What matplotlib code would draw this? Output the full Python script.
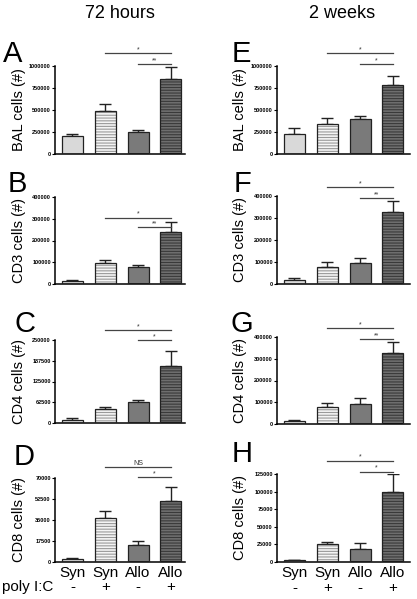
import matplotlib
matplotlib.use("Agg")
import matplotlib.pyplot as plt

plt.rcParams['font.family'] = ['Liberation Sans', 'DejaVu Sans']
plt.rcParams['hatch.linewidth'] = 0.8

groups = ["Syn", "Syn", "Allo", "Allo"]
polyic = ["-", "+", "-", "+"]
col_titles = ["72 hours", "2 weeks"]

bal_72h = [205000, 488000, 250000, 848000]
bal_72h_err = [25000, 76000, 22000, 137000]
cd3_72h = [12000, 96000, 78000, 239000]
cd3_72h_err = [6000, 15000, 9000, 44000]
cd4_72h = [10000, 43000, 62000, 171000]
cd4_72h_err = [4000, 5000, 8000, 45000]
cd8_72h = [2500, 36700, 13900, 51100]
cd8_72h_err = [600, 6100, 3900, 11400]

bal_2w = [227000, 337000, 394000, 780000]
bal_2w_err = [72000, 72000, 42000, 106000]
cd3_2w = [18000, 79000, 95500, 327000]
cd3_2w_err = [7800, 19700, 24200, 48700]
cd4_2w = [15000, 78000, 92000, 328000]
cd4_2w_err = [5000, 18000, 28000, 49000]
cd8_2w = [2400, 25500, 18400, 99500]
cd8_2w_err = [300, 2800, 8500, 25000]

ylabels = ["BAL cells (#)", "CD3 cells (#)", "CD4 cells (#)", "CD8 cells (#)"]
letters = [["A", "B", "C", "D"], ["E", "F", "G", "H"]]

ticks_72h = [
    [0, 250000, 500000, 750000, 1000000],
    [0, 100000, 200000, 300000, 400000],
    [0, 62500, 125000, 187500, 250000],
    [0, 17500, 35000, 52500, 70000],
]
ticks_2w = [
    [0, 250000, 500000, 750000, 1000000],
    [0, 100000, 200000, 300000, 400000],
    [0, 100000, 200000, 300000, 400000],
    [0, 25000, 50000, 75000, 100000, 125000],
]

# significance: (y, from group, to group, label)
sig_72h = [
    [(1148000, 1, 3, "*"), (1023000, 2, 3, "**")],
    [(305600, 1, 3, "*"), (260000, 2, 3, "**")],
    [(279000, 1, 3, "*"), (250000, 2, 3, "*")],
    [(78900, 1, 3, "NS"), (70500, 2, 3, "*")],
]
sig_2w = [
    [(1144000, 1, 3, "*"), (1019000, 2, 3, "*")],
    [(439000, 1, 3, "*"), (389000, 2, 3, "**")],
    [(441000, 1, 3, "*"), (391000, 2, 3, "**")],
    [(143900, 1, 3, "*"), (128300, 2, 3, "*")],
]

data = [
    [(bal_72h, bal_72h_err), (cd3_72h, cd3_72h_err), (cd4_72h, cd4_72h_err), (cd8_72h, cd8_72h_err)],
    [(bal_2w, bal_2w_err), (cd3_2w, cd3_2w_err), (cd4_2w, cd4_2w_err), (cd8_2w, cd8_2w_err)],
]
ticks = [ticks_72h, ticks_2w]
sigs = [sig_72h, sig_2w]

face = ["#d9d9d9", "#f4f4f4", "#7a7a7a", "#6e6e6e"]
hatch = [None, "------", None, "------"]
hatch_col = [None, "#9a9a9a", None, "#3a3a3a"]

W, H = 417, 599
fig = plt.figure(figsize=(W / 100, H / 100), dpi=100)

col_x = [(55, 185), (277, 410)]
row_y = [[(66, 154), (197, 284), (340, 423), (478, 562)],
         [(66, 154), (196, 284), (337, 424), (474, 562)]]
xlims = [(-0.533, 3.43), (-0.533, 3.52)]
letter_pos = [[(3, 62), (8, 192), (14, 332), (14, 465)],
              [(232, 62), (234, 192), (230, 332), (232, 462)]]
ylab_x = [19, 240]

x = [0, 1, 2, 3]
bw = 0.64

for c in range(2):
    x0, x1 = col_x[c]
    for r in range(4):
        ytop, ybot = row_y[c][r]
        ax = fig.add_axes([x0 / W, 1 - ybot / H, (x1 - x0) / W, (ybot - ytop) / H])
        vals, errs = data[c][r]
        for i in range(4):
            if hatch[i]:
                ax.bar(x[i], vals[i], width=bw, color=face[i], edgecolor=hatch_col[i],
                       hatch=hatch[i], linewidth=0, zorder=2)
            else:
                ax.bar(x[i], vals[i], width=bw, color=face[i], linewidth=0, zorder=2)
            ax.bar(x[i], vals[i], width=bw, fill=False, edgecolor="#222222",
                   linewidth=0.9, zorder=3)
        ax.errorbar(x, vals, yerr=[[0] * 4, errs], fmt="none", ecolor="#222222",
                    elinewidth=1.0, capsize=4.5, capthick=1.0, zorder=1)
        tk = ticks[c][r]
        ax.set_ylim(0, tk[-1])
        ax.set_yticks(tk)
        ax.set_yticklabels([str(t) for t in tk], fontsize=4.0, fontweight="bold")
        ax.set_xlim(*xlims[c])
        ax.spines["top"].set_visible(False)
        ax.spines["right"].set_visible(False)
        ax.spines["left"].set_linewidth(1.1)
        ax.spines["bottom"].set_linewidth(1.1)
        ax.tick_params(axis="y", length=2, width=0.8, pad=1)
        ax.tick_params(axis="x", length=0)
        if r == 3:
            ax.set_xticks(x)
            ax.set_xticklabels(groups, fontsize=11)
            ax.tick_params(axis="x", pad=3)
        else:
            ax.set_xticks([])
        fig.text(ylab_x[c] / W, 1 - ((ytop + ybot) / 2) / H, ylabels[r], rotation=90,
                 fontsize=10.5, ha="center", va="center")
        lx, ly = letter_pos[c][r]
        fig.text(lx / W, 1 - ly / H, letters[c][r], fontsize=21, ha="left", va="baseline")
        for (yv, a, b, lab) in sigs[c][r]:
            ax.plot([a, b], [yv, yv], color="#444444", linewidth=0.9, clip_on=False, zorder=4)
            ax.text((a + b) / 2, yv, lab, fontsize=5, ha="center", va="bottom",
                    color="#333333", clip_on=False)
        if r == 3:
            for i in range(4):
                ax.text(x[i], -0.30, polyic[i], transform=ax.get_xaxis_transform(),
                        ha="center", va="center", fontsize=11)
            if c == 0:
                fig.text(2 / W, 1 - 587 / H, "poly I:C", fontsize=11, ha="left", va="center")

fig.text(120 / W, 1 - 13 / H, col_titles[0], fontsize=13, ha="center", va="center")
fig.text(342 / W, 1 - 13 / H, col_titles[1], fontsize=13, ha="center", va="center")

fig.savefig("out.png", dpi=100)
